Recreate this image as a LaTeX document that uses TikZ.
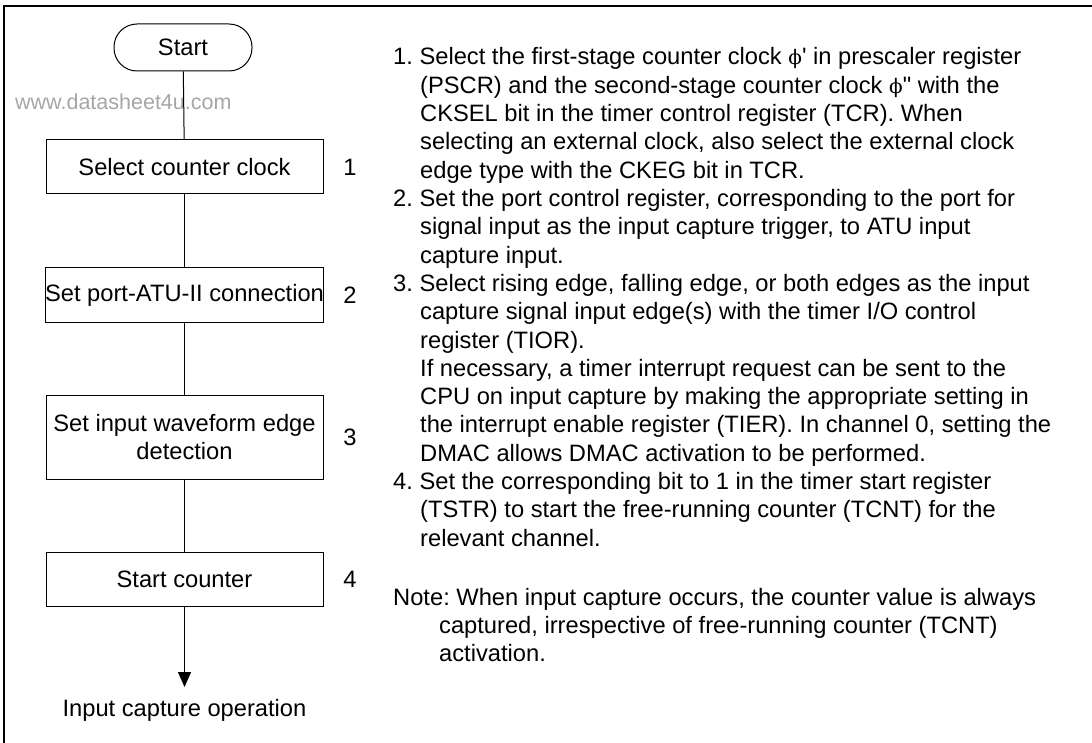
\documentclass[tikz,border=0pt]{standalone}
\usepackage{fontspec}
\setmainfont{Liberation Sans}[Ligatures=TeXOff]
\newfontfamily\phifont{DejaVu Serif}
\newcommand{\stagephi}{{\phifont\fontsize{20}{24}\selectfont ϕ}}
\usetikzlibrary{arrows.meta}
\frenchspacing
\begin{document}
\frenchspacing
\begin{tikzpicture}[x=1pt,y=-1pt,
  every node/.style={font=\fontsize{23.7}{28.4}\selectfont\frenchspacing},
  procbox/.style={draw, line width=1pt, minimum width=277pt, minimum height=54pt, inner sep=0pt, align=center},
  termbox/.style={draw, line width=1pt, rounded corners=23pt, minimum width=138pt, minimum height=47pt, inner sep=0pt},
  steplabel/.style={inner sep=0pt},
  txt/.style={anchor=base west, inner sep=0pt},
  conn/.style={line width=1pt},
  frameline/.style={line width=2.3pt}
]
\useasboundingbox (0,0) rectangle (1092,743);
\draw[frameline] (4,743) -- (4,6) -- (1092,6);

% flowchart
\node[termbox] (start) at (183,47.5) {Start};
\node[inner sep=0pt, anchor=base west, text=black!35, font=\fontsize{21.5}{26}\selectfont] (wm) at (15,110) {www.datasheet4u.com};
\node[procbox] (b1) at (184.5,167) {Select counter clock};
\node[procbox] (b2) at (184.5,295) {Set port-ATU-II connection};
\node[procbox, minimum height=84pt] (b3) at (184.5,437) {Set input waveform edge\\detection};
\node[procbox] (b4) at (184.5,579.5) {Start counter};
\coordinate (tip) at (184.5,687);
\node[inner sep=0pt, anchor=base] (out) at (184.5,716) {Input capture operation};

\node[steplabel] (l1) at (350,167) {1};
\node[steplabel] (l2) at (350,295) {2};
\node[steplabel] (l3) at (350,437) {3};
\node[steplabel] (l4) at (350,579.5) {4};

\draw[conn] (start) -- (b1);
\draw[conn] (b1) -- (b2);
\draw[conn] (b2) -- (b3);
\draw[conn] (b3) -- (b4);
\draw[conn, -{Triangle[width=13pt,length=15pt]}] (b4) -- (tip);

% description text
\node[txt] (t0) at (393,65) {1. Select the first-stage counter clock \stagephi' in prescaler register};
\node[txt] (t1) at (420,93.3) {(PSCR) and the second-stage counter clock \stagephi" with the};
\node[txt] (t2) at (420,121.6) {CKSEL bit in the timer control register (TCR). When};
\node[txt] (t3) at (420,149.9) {selecting an external clock, also select the external clock};
\node[txt] (t4) at (420,178.2) {edge type with the CKEG bit in TCR.};
\node[txt] (t5) at (393,206.5) {2. Set the port control register, corresponding to the port for};
\node[txt] (t6) at (420,234.8) {signal input as the input capture trigger, to ATU input};
\node[txt] (t7) at (420,263.1) {capture input.};
\node[txt] (t8) at (393,291.4) {3. Select rising edge, falling edge, or both edges as the input};
\node[txt] (t9) at (420,319.7) {capture signal input edge(s) with the timer I/O control};
\node[txt] (t10) at (420,348) {register (TIOR).};
\node[txt] (t11) at (420,376.3) {If necessary, a timer interrupt request can be sent to the};
\node[txt] (t12) at (420,404.6) {CPU on input capture by making the appropriate setting in};
\node[txt] (t13) at (420,432.9) {the interrupt enable register (TIER). In channel 0, setting the};
\node[txt] (t14) at (420,461.2) {DMAC allows DMAC activation to be performed.};
\node[txt] (t15) at (393,489.5) {4. Set the corresponding bit to 1 in the timer start register};
\node[txt] (t16) at (420,517.8) {(TSTR) to start the free-running counter (TCNT) for the};
\node[txt] (t17) at (420,546.1) {relevant channel.};
\node[txt] (n0) at (393,605) {Note: When input capture occurs, the counter value is always};
\node[txt] (n1) at (439,633.3) {captured, irrespective of free-running counter (TCNT)};
\node[txt] (n2) at (439,661.6) {activation.};
\end{tikzpicture}
\end{document}
